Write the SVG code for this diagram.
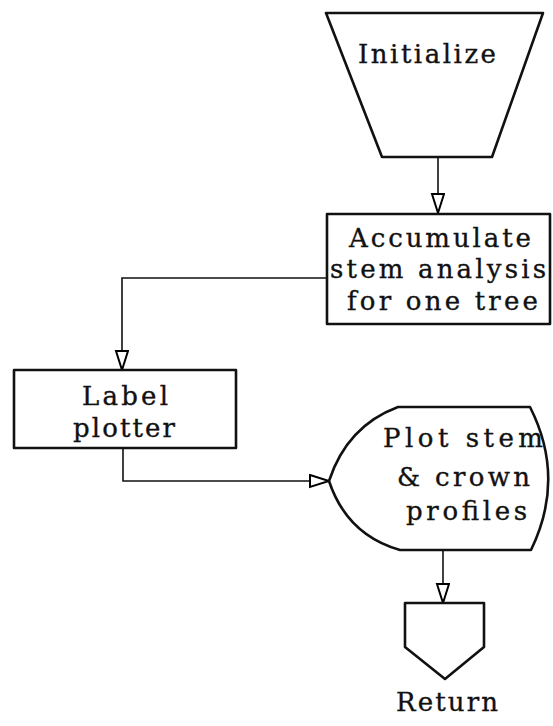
<svg xmlns="http://www.w3.org/2000/svg" width="553" height="726" viewBox="0 0 553 726">
<defs>
<marker id="arr" markerUnits="userSpaceOnUse" markerWidth="24" markerHeight="18" refX="20" refY="7" orient="auto">
<path d="M1,1 L20,7 L1,13 Z" fill="#fff" stroke="#000" stroke-width="2"/>
</marker>
<style>
.shape{fill:#fff;stroke:#111;stroke-width:2.6;stroke-linejoin:round}
.conn{fill:none;stroke:#111;stroke-width:1.6}
text{font-family:"DejaVu Serif","Liberation Serif",serif;font-size:26px;fill:#111;stroke:#111;stroke-width:0.35}
</style>
</defs>
<rect width="553" height="726" fill="#fff"/>
<g id="connectors">
<path class="conn" d="M438,157 L438,213" marker-end="url(#arr)"/>
<path class="conn" d="M327,278 L122,278 L122,370" marker-end="url(#arr)"/>
<path class="conn" d="M123,448 L123,481 L329,481" marker-end="url(#arr)"/>
<path class="conn" d="M443,550 L443,603" marker-end="url(#arr)"/>
</g>
<g id="initialize">
<path class="shape" d="M326,13 L543,13 L492,157 L382,157 Z"/>
<text x="358" y="63" textLength="138" lengthAdjust="spacing">Initialize</text>
</g>
<g id="accumulate">
<rect class="shape" x="327" y="214" width="223" height="110"/>
<text x="349" y="247" textLength="182" lengthAdjust="spacing">Accumulate</text>
<text x="330" y="278" textLength="216" lengthAdjust="spacing">stem analysis</text>
<text x="347" y="310" textLength="191" lengthAdjust="spacing">for one tree</text>
</g>
<g id="label-plotter">
<rect class="shape" x="14" y="370" width="222" height="78"/>
<text x="82" y="405" textLength="86" lengthAdjust="spacing">Label</text>
<text x="73" y="437" textLength="102" lengthAdjust="spacing">plotter</text>
</g>
<g id="plot-profiles">
<path class="shape" d="M329,481 Q347,426 398,407 L530,407 Q566,478 531,550 L400,550 Q347,535 329,481 Z"/>
<text x="383" y="447" textLength="160" lengthAdjust="spacing">Plot stem</text>
<text x="397" y="486" textLength="133" lengthAdjust="spacing">&amp; crown</text>
<text x="406" y="520" textLength="121" lengthAdjust="spacing">profiles</text>
</g>
<g id="return">
<path class="shape" d="M405,603 L484,603 L484,647 L445,679 L405,647 Z"/>
<text x="396" y="711" textLength="102" lengthAdjust="spacing">Return</text>
</g>
</svg>
